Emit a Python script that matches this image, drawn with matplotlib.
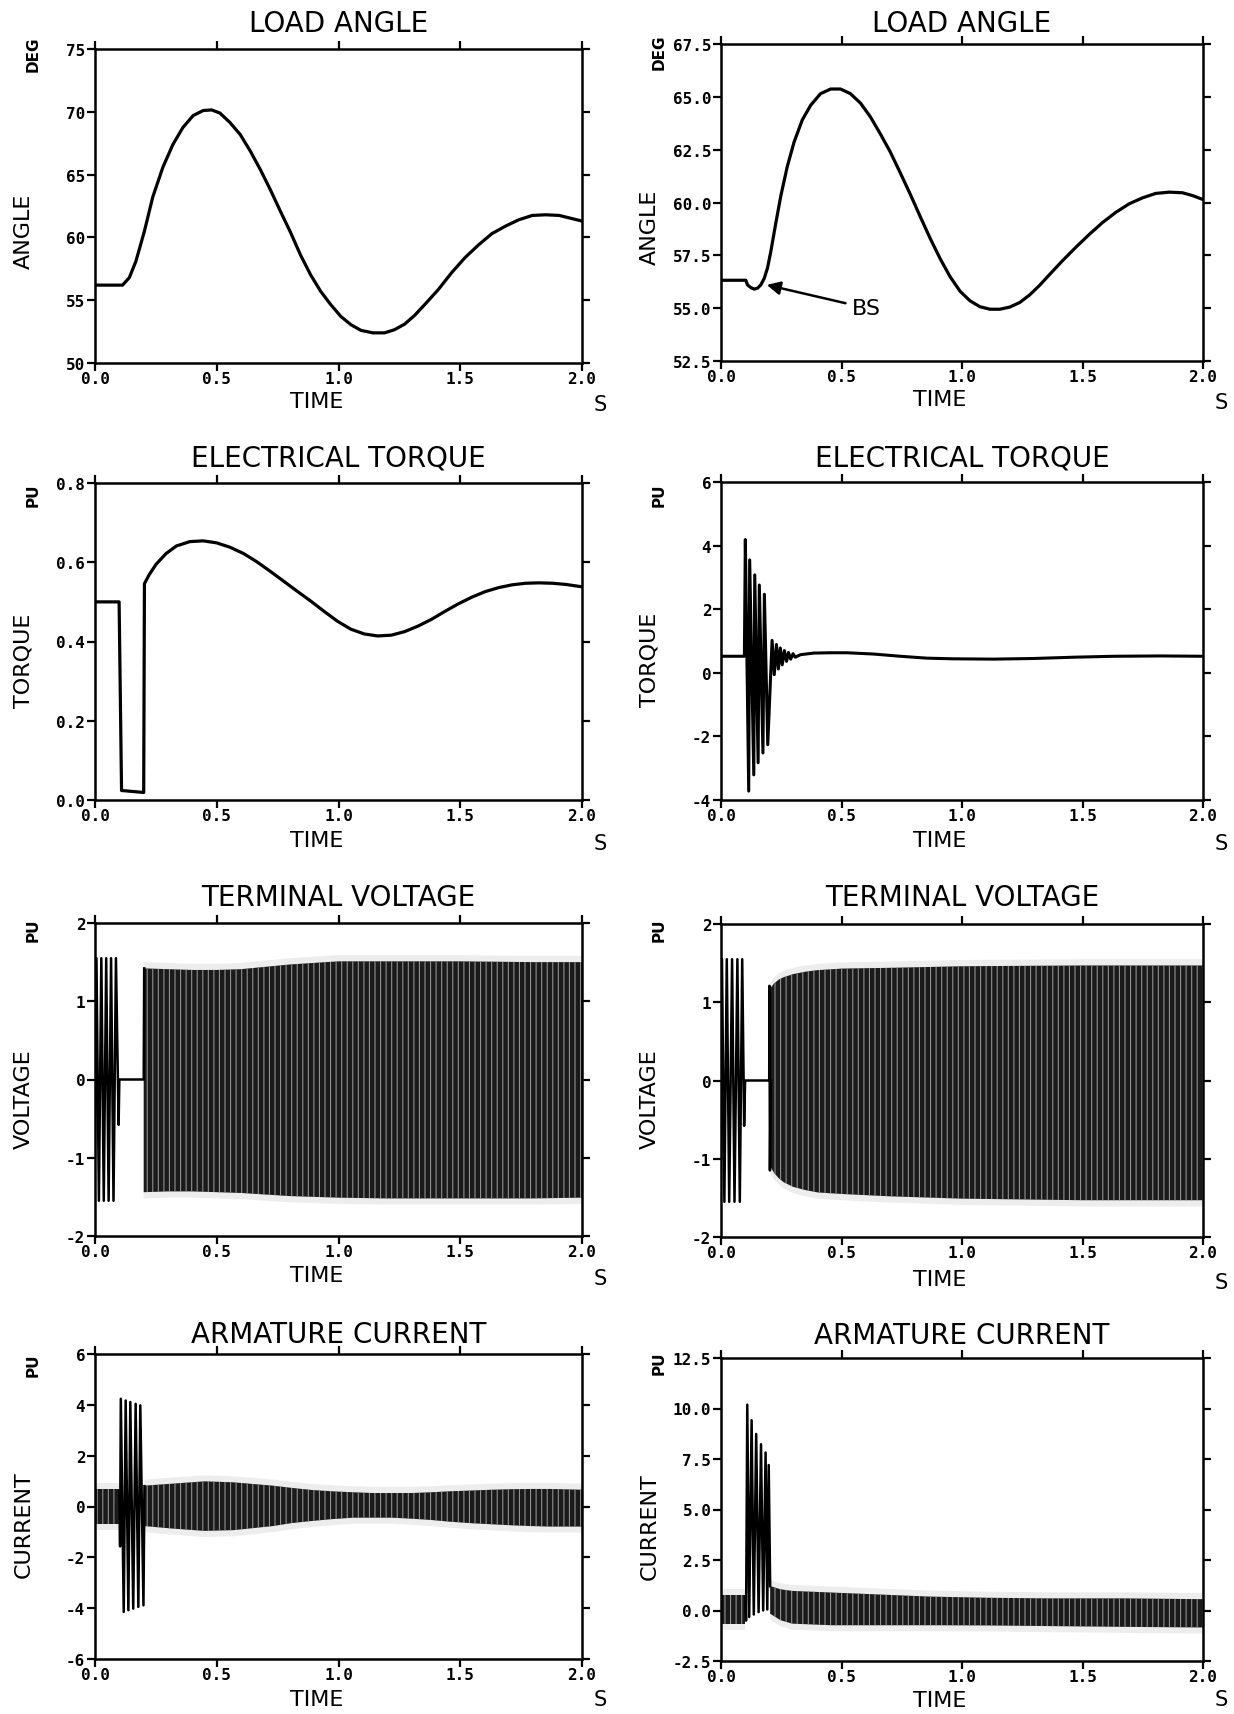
import matplotlib
matplotlib.use('Agg')
import matplotlib.pyplot as plt

plt.rcParams['axes.unicode_minus'] = False
plt.rcParams['hatch.linewidth'] = 0.8

W, H = 1234, 1715

# ---------------- data ----------------
# load angle (deg), left case
la_left_t = [0.0, 0.113, 0.141, 0.168, 0.203, 0.237, 0.279, 0.32, 0.361, 0.403, 0.444, 0.479,
             0.513, 0.554, 0.596, 0.637, 0.679, 0.72, 0.761, 0.803, 0.844, 0.886, 0.927, 0.968,
             1.01, 1.051, 1.092, 1.141, 1.189, 1.23, 1.272, 1.313, 1.354, 1.41, 1.465, 1.52,
             1.575, 1.63, 1.686, 1.74, 1.796, 1.851, 1.906, 1.948, 2.0]
la_left_v = [56.2, 56.2, 56.8, 58.1, 60.5, 63.2, 65.6, 67.4, 68.75, 69.7, 70.1, 70.15,
             69.9, 69.15, 68.2, 66.9, 65.4, 63.8, 62.1, 60.4, 58.6, 57.0, 55.7, 54.65,
             53.7, 53.05, 52.6, 52.4, 52.4, 52.65, 53.1, 53.8, 54.65, 55.85, 57.2, 58.4,
             59.4, 60.3, 60.9, 61.4, 61.75, 61.8, 61.75, 61.55, 61.3]

# load angle (deg), right case (with braking-switch dip)
la_right_t = [0.0, 0.103, 0.110, 0.124, 0.138, 0.152, 0.165, 0.179, 0.193, 0.207,
              0.227, 0.248, 0.275, 0.303, 0.337, 0.372, 0.413, 0.455, 0.496, 0.537,
              0.579, 0.62, 0.661, 0.702, 0.744, 0.785, 0.826, 0.868, 0.909, 0.95,
              0.992, 1.033, 1.074, 1.116, 1.157, 1.198, 1.24, 1.281, 1.322, 1.364,
              1.419, 1.474, 1.529, 1.584, 1.639, 1.694, 1.749, 1.804, 1.86, 1.915,
              1.956, 2.0]
la_right_v = [56.32, 56.32, 56.1, 55.97, 55.9, 55.95, 56.1, 56.4, 56.9, 57.7,
              59.0, 60.3, 61.7, 62.85, 63.9, 64.6, 65.15, 65.37, 65.37, 65.15,
              64.7, 64.05, 63.25, 62.4, 61.4, 60.4, 59.35, 58.3, 57.35, 56.5,
              55.8, 55.35, 55.07, 54.95, 54.95, 55.05, 55.27, 55.63, 56.08, 56.6,
              57.27, 57.9, 58.5, 59.06, 59.54, 59.94, 60.22, 60.43, 60.49, 60.46,
              60.33, 60.14]

# electrical torque (pu), left
tq_left_t = [0.0, 0.099, 0.109, 0.2, 0.203, 0.223, 0.251, 0.292, 0.334, 0.389,
             0.444, 0.499, 0.554, 0.61, 0.665, 0.72, 0.775, 0.83, 0.886, 0.941,
             0.996, 1.051, 1.106, 1.161, 1.217, 1.272, 1.327, 1.382, 1.437, 1.492,
             1.548, 1.603, 1.658, 1.713, 1.768, 1.823, 1.879, 1.934, 2.0]
tq_left_v = [0.50, 0.50, 0.024, 0.019, 0.546, 0.569, 0.595, 0.622, 0.641, 0.652,
             0.654, 0.649, 0.638, 0.622, 0.601, 0.577, 0.552, 0.527, 0.502, 0.476,
             0.451, 0.431, 0.419, 0.414, 0.416, 0.425, 0.439, 0.456, 0.476, 0.495,
             0.512, 0.526, 0.536, 0.543, 0.547, 0.548, 0.547, 0.544, 0.538]

# electrical torque (pu), right: peaks / troughs of the transient, then slow swing
tq_right_t = [0.0, 0.097, 0.101, 0.115, 0.119, 0.136, 0.140, 0.154, 0.159, 0.174,
              0.180, 0.194, 0.212, 0.221, 0.230, 0.238, 0.246, 0.254, 0.263, 0.272,
              0.280, 0.289, 0.299, 0.308, 0.33, 0.385, 0.45, 0.523, 0.633, 0.744,
              0.855, 0.965, 1.131, 1.297, 1.463, 1.63, 1.823, 2.0]
tq_right_v = [0.52, 0.52, 4.19, -3.72, 3.55, -3.21, 3.08, -2.83, 2.76, -2.52,
              2.47, -2.26, 1.02, -0.06, 0.89, 0.12, 0.78, 0.25, 0.70, 0.36,
              0.64, 0.43, 0.60, 0.49, 0.57, 0.62, 0.63, 0.63, 0.59, 0.52,
              0.46, 0.44, 0.43, 0.45, 0.49, 0.52, 0.53, 0.52]

# terminal voltage (pu), left: pre-fault strokes, fault, then envelope of the 50 Hz band
vl_line_t = [0.0, 0.006, 0.016, 0.026, 0.036, 0.046, 0.056, 0.066, 0.076, 0.086, 0.097, 0.100, 0.200, 0.202]
vl_line_v = [-1.0, 1.55, -1.55, 1.55, -1.55, 1.55, -1.55, 1.55, -1.55, 1.55, -0.58, 0.0, 0.0, 1.42]
vl_band_t = [0.2, 0.3, 0.4, 0.5, 0.6, 0.7, 0.8, 0.9, 1.0, 1.2, 1.5, 1.8, 2.0]
vl_band_hi = [1.42, 1.41, 1.40, 1.40, 1.41, 1.44, 1.47, 1.49, 1.51, 1.51, 1.51, 1.50, 1.50]
vl_band_lo = [-1.44, -1.43, -1.43, -1.44, -1.45, -1.47, -1.49, -1.50, -1.51, -1.52, -1.52, -1.52, -1.51]

# terminal voltage (pu), right
vr_line_t = [0.0, 0.004, 0.014, 0.024, 0.034, 0.046, 0.056, 0.068, 0.078, 0.088, 0.096, 0.100, 0.200, 0.201, 0.203, 0.206]
vr_line_v = [-1.0, 1.55, -1.55, 1.55, -1.55, 1.55, -1.55, 1.55, -1.55, 1.55, -0.58, 0.0, 0.0, 1.21, -1.15, 0.0]
vr_band_t = [0.205, 0.22, 0.24, 0.26, 0.30, 0.35, 0.40, 0.50, 0.70, 1.0, 1.5, 2.0]
vr_band_hi = [1.18, 1.24, 1.29, 1.32, 1.36, 1.39, 1.41, 1.43, 1.44, 1.46, 1.47, 1.47]
vr_band_lo = [-1.10, -1.18, -1.25, -1.30, -1.36, -1.40, -1.43, -1.45, -1.48, -1.51, -1.53, -1.53]

# armature current (pu), left
il_pre_t = [0.0, 0.1]
il_pre_hi = [0.69, 0.69]
il_pre_lo = [-0.68, -0.68]
il_fault_t = [0.100, 0.103, 0.106, 0.118, 0.126, 0.137, 0.145, 0.157, 0.167, 0.178, 0.186, 0.199, 0.203]
il_fault_v = [0.6, -1.57, 4.24, -4.15, 4.17, -4.08, 4.11, -4.02, 4.04, -3.95, 3.98, -3.89, 0.8]
il_band_t = [0.203, 0.32, 0.45, 0.57, 0.73, 0.81, 0.89, 0.97, 1.06, 1.14,
             1.22, 1.3, 1.38, 1.46, 1.55, 1.63, 1.71, 1.79, 1.87, 2.0]
il_band_hi = [0.82, 0.90, 0.99, 0.95, 0.82, 0.73, 0.65, 0.60, 0.56, 0.53,
              0.53, 0.53, 0.56, 0.60, 0.63, 0.66, 0.68, 0.69, 0.69, 0.66]
il_band_lo = [-0.77, -0.87, -0.96, -0.93, -0.77, -0.65, -0.57, -0.50, -0.44, -0.44,
              -0.44, -0.48, -0.53, -0.60, -0.66, -0.70, -0.74, -0.77, -0.79, -0.79]

# armature current (pu), right
ir_pre_t = [0.0, 0.1]
ir_pre_hi = [0.77, 0.77]
ir_pre_lo = [-0.65, -0.65]
ir_fault_t = [0.100, 0.104, 0.109, 0.117, 0.127, 0.136, 0.146, 0.156, 0.166, 0.175, 0.185, 0.192, 0.198, 0.204]
ir_fault_v = [0.7, -0.5, 10.19, -0.32, 9.42, -0.2, 8.74, -0.08, 8.23, 0.0, 7.82, 0.05, 7.2, 1.2]
ir_band_t = [0.204, 0.247, 0.295, 0.458, 0.62, 0.864, 1.107, 1.35, 1.675, 2.0]
ir_band_hi = [1.21, 1.05, 0.97, 0.89, 0.81, 0.69, 0.63, 0.60, 0.60, 0.56]
ir_band_lo = [-0.16, -0.48, -0.65, -0.73, -0.73, -0.73, -0.74, -0.77, -0.81, -0.84]

x_ticks = [0.0, 0.5, 1.0, 1.5, 2.0]
titles = ['LOAD ANGLE', 'ELECTRICAL TORQUE', 'TERMINAL VOLTAGE', 'ARMATURE CURRENT']
qty_labels = ['ANGLE', 'TORQUE', 'VOLTAGE', 'CURRENT']
unit_labels = ['DEG', 'PU', 'PU', 'PU']
yticks_left = [[50, 55, 60, 65, 70, 75], [0.0, 0.2, 0.4, 0.6, 0.8], [-2, -1, 0, 1, 2], [-6, -4, -2, 0, 2, 4, 6]]
yticks_right = [[52.5, 55.0, 57.5, 60.0, 62.5, 65.0, 67.5], [-4, -2, 0, 2, 4, 6], [-2, -1, 0, 1, 2],
                [-2.5, 0.0, 2.5, 5.0, 7.5, 10.0, 12.5]]
yfmt_left = ['{:.0f}', '{:.1f}', '{:.0f}', '{:.0f}']
yfmt_right = ['{:.1f}', '{:.0f}', '{:.0f}', '{:.1f}']

# ---------------- layout (pixel boxes of the axes) ----------------
left_x = (95, 582)
right_x = (721, 1203)
left_y = [(50, 364), (484, 801), (924, 1237), (1355, 1660)]
right_y = [(45, 362), (483, 801), (925, 1238), (1359, 1662)]
title_y = [(24, 24), (459, 459), (898, 898), (1335, 1336)]
unit_y = [(54, 52), (495, 495), (930, 930), (1365, 1363)]
qty_y = [(231, 227), (661, 660), (1099, 1099), (1525, 1527)]
time_y = [(402, 400), (841, 841), (1276, 1280), (1700, 1701)]
s_y = [(405, 403), (844, 844), (1279, 1283), (1700, 1700)]


def fx(px):
    return px / W


def fy(py):
    return 1 - py / H


def make_axes(fig, xs, ys, yt, fmt):
    ax = fig.add_axes([fx(xs[0]), fy(ys[1]), fx(xs[1] - xs[0]), (ys[1] - ys[0]) / H])
    ax.set_xlim(0, 2)
    ax.set_ylim(yt[0], yt[-1])
    ax.set_xticks(x_ticks)
    ax.set_xticklabels(['{:.1f}'.format(v) for v in x_ticks])
    ax.set_yticks(yt)
    ax.set_yticklabels([fmt.format(v) for v in yt])
    ax.tick_params(direction='out', length=6, width=1.6, top=True, right=True,
                   labeltop=False, labelright=False, pad=1.0)
    ax.tick_params(axis='x', pad=0.0)
    for lab in ax.get_xticklabels() + ax.get_yticklabels():
        lab.set_fontfamily('DejaVu Sans Mono')
        lab.set_fontweight('bold')
        lab.set_fontsize(11.5)
    for s in ax.spines.values():
        s.set_linewidth(1.8)
    return ax


def band(ax, t, lo, hi):
    # faint print halo, then the dense oscillation drawn as a striped envelope
    pad = 0.02 * (ax.get_ylim()[1] - ax.get_ylim()[0])
    ax.fill_between(t, [v - pad for v in lo], [v + pad for v in hi],
                    facecolor='#ededed', edgecolor='none', zorder=1)
    ax.fill_between(t, lo, hi, facecolor='#1a1a1a', edgecolor='#8f8f8f',
                    hatch='|||', linewidth=0, zorder=2)


fig = plt.figure(figsize=(W / 100, H / 100), dpi=100)

axes = []
for r in range(4):
    axl = make_axes(fig, left_x, left_y[r], yticks_left[r], yfmt_left[r])
    axr = make_axes(fig, right_x, right_y[r], yticks_right[r], yfmt_right[r])
    axes.append((axl, axr))
    for c, (xs, ax) in enumerate([(left_x, axl), (right_x, axr)]):
        xc = (xs[0] + xs[1]) / 2
        fig.text(fx(xc), fy(title_y[r][c]), titles[r], ha='center', va='center',
                 fontsize=20, family='DejaVu Sans')
        fig.text(fx(xs[0] - 62), fy(unit_y[r][c]), unit_labels[r], ha='center', va='center',
                 rotation=90, fontsize=11, fontweight='bold', family='DejaVu Sans')
        fig.text(fx(xs[0] - 71), fy(qty_y[r][c]), qty_labels[r], ha='center', va='center',
                 rotation=90, fontsize=16, family='DejaVu Sans')
        fig.text(fx(xc - 22), fy(time_y[r][c]), 'TIME', ha='center', va='center',
                 fontsize=16, family='DejaVu Sans')
        fig.text(fx(xs[1] + 18), fy(s_y[r][c]), 'S', ha='center', va='center',
                 fontsize=15, family='DejaVu Sans')

# row 1: load angle
axes[0][0].plot(la_left_t, la_left_v, color='k', lw=2.3)
axes[0][1].plot(la_right_t, la_right_v, color='k', lw=2.3)
axes[0][1].annotate('BS', xy=(0.19, 56.1), xytext=(0.545, 55.0), fontsize=16, va='center',
                    arrowprops=dict(arrowstyle='-|>', color='k', lw=1.8, mutation_scale=20,
                                    shrinkA=3, shrinkB=0))

# row 2: electrical torque
axes[1][0].plot(tq_left_t, tq_left_v, color='k', lw=2.3)
axes[1][1].plot(tq_right_t, tq_right_v, color='k', lw=2.2)

# row 3: terminal voltage
for ax, lt, lv, bt, blo, bhi in [(axes[2][0], vl_line_t, vl_line_v, vl_band_t, vl_band_lo, vl_band_hi),
                                (axes[2][1], vr_line_t, vr_line_v, vr_band_t, vr_band_lo, vr_band_hi)]:
    band(ax, bt, blo, bhi)
    ax.plot(lt, lv, color='k', lw=1.8, zorder=3)

# row 4: armature current
for ax, pt, plo, phi, ft, fv, bt, blo, bhi in [
        (axes[3][0], il_pre_t, il_pre_lo, il_pre_hi, il_fault_t, il_fault_v, il_band_t, il_band_lo, il_band_hi),
        (axes[3][1], ir_pre_t, ir_pre_lo, ir_pre_hi, ir_fault_t, ir_fault_v, ir_band_t, ir_band_lo, ir_band_hi)]:
    band(ax, pt, plo, phi)
    band(ax, bt, blo, bhi)
    ax.plot(ft, fv, color='k', lw=1.8, zorder=3)

fig.savefig('out.png', dpi=100)
